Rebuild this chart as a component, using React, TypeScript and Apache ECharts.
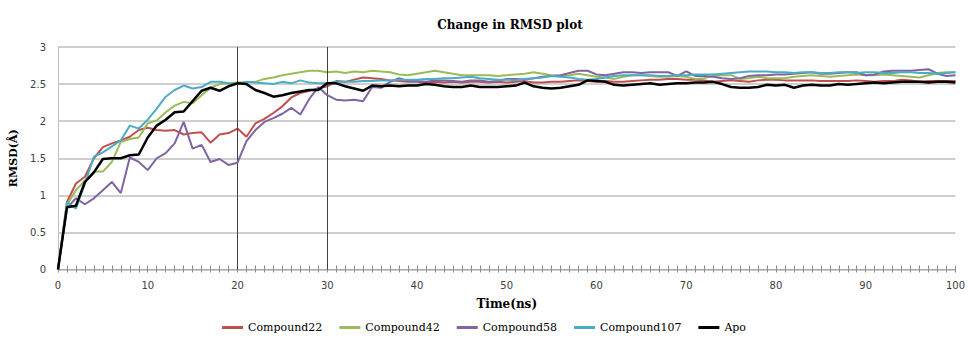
import React, { useEffect, useRef } from "react";
import * as echarts from "echarts";

const time: number[] = Array.from({ length: 101 }, (_, i) => i);

const compound22: number[] = [
  0, 0.91, 1.16, 1.25, 1.5, 1.65, 1.7, 1.74, 1.79, 1.88, 1.91, 1.88, 1.87, 1.88, 1.82, 1.84, 1.85,
  1.71, 1.82, 1.84, 1.9, 1.79, 1.97, 2.03, 2.11, 2.2, 2.32, 2.38, 2.41, 2.44, 2.47, 2.54,
  2.53, 2.56, 2.59, 2.58, 2.57, 2.55, 2.54, 2.53, 2.53, 2.52, 2.53, 2.52, 2.53, 2.52, 2.53,
  2.53, 2.52, 2.53, 2.52, 2.53, 2.54, 2.52, 2.52, 2.53, 2.53, 2.54, 2.55, 2.54, 2.53, 2.54, 2.53, 2.53, 2.54,
  2.55, 2.56, 2.56, 2.57, 2.57, 2.56, 2.56, 2.55, 2.53, 2.54, 2.55, 2.54, 2.53, 2.55, 2.56, 2.56, 2.55,
  2.55, 2.55, 2.55, 2.54, 2.54, 2.54, 2.54, 2.55, 2.54, 2.53, 2.54, 2.54, 2.56, 2.55, 2.53, 2.54, 2.54, 2.54, 2.54,
];

const compound42: number[] = [
  0, 0.87, 1.07, 1.2, 1.32, 1.32, 1.45, 1.72, 1.76, 1.78, 1.97, 2.01, 2.12, 2.21, 2.26, 2.24, 2.35,
  2.45, 2.5, 2.51, 2.52, 2.52, 2.53, 2.57, 2.59, 2.62, 2.64, 2.66, 2.68, 2.68, 2.66, 2.67,
  2.65, 2.67, 2.66, 2.68, 2.67, 2.66, 2.63, 2.62, 2.64, 2.66, 2.68, 2.66, 2.64, 2.62, 2.62,
  2.62, 2.62, 2.61, 2.62, 2.63, 2.64, 2.66, 2.64, 2.62, 2.61, 2.62, 2.64, 2.62, 2.6, 2.59, 2.57, 2.6, 2.62,
  2.62, 2.61, 2.6, 2.6, 2.61, 2.6, 2.57, 2.58, 2.61, 2.62, 2.62, 2.57, 2.58, 2.6, 2.58, 2.58, 2.58,
  2.6, 2.61, 2.62, 2.61, 2.6, 2.61, 2.62, 2.63, 2.62, 2.62, 2.63, 2.62, 2.61, 2.6, 2.59, 2.62, 2.65, 2.66, 2.66,
];

const compound58: number[] = [
  0, 0.83, 0.96, 0.88, 0.96, 1.07, 1.18, 1.03, 1.51, 1.45, 1.34, 1.5, 1.57, 1.7, 1.99, 1.63, 1.68,
  1.45, 1.49, 1.41, 1.44, 1.73, 1.88, 1.99, 2.04, 2.1, 2.18, 2.09, 2.3, 2.46, 2.35, 2.29,
  2.28, 2.29, 2.27, 2.46, 2.45, 2.53, 2.58, 2.54, 2.54, 2.53, 2.55, 2.55, 2.54, 2.53, 2.55,
  2.55, 2.53, 2.54, 2.57, 2.57, 2.56, 2.58, 2.6, 2.61, 2.62, 2.65, 2.68, 2.68, 2.63, 2.62, 2.64, 2.66, 2.66,
  2.65, 2.66, 2.66, 2.66, 2.61, 2.67, 2.61, 2.61, 2.6, 2.58, 2.57, 2.58, 2.61, 2.62, 2.62, 2.63, 2.63,
  2.64, 2.65, 2.66, 2.64, 2.64, 2.65, 2.66, 2.66, 2.62, 2.63, 2.67, 2.68, 2.68, 2.68, 2.69, 2.7, 2.64, 2.61, 2.62,
];

const compound107: number[] = [
  0, 0.91, 0.82, 1.16, 1.52, 1.58, 1.66, 1.74, 1.94, 1.9, 2.02, 2.17, 2.33, 2.42, 2.48, 2.44, 2.46,
  2.53, 2.53, 2.51, 2.5, 2.53, 2.52, 2.51, 2.5, 2.53, 2.51, 2.55, 2.52, 2.51, 2.51, 2.53,
  2.53, 2.53, 2.54, 2.54, 2.55, 2.55, 2.56, 2.56, 2.56, 2.57, 2.57, 2.58, 2.58, 2.59, 2.6,
  2.58, 2.57, 2.56, 2.56, 2.55, 2.57, 2.58, 2.59, 2.61, 2.6, 2.59, 2.57, 2.56, 2.57, 2.59, 2.61, 2.62, 2.62,
  2.62, 2.62, 2.61, 2.61, 2.62, 2.62, 2.63, 2.63, 2.63, 2.64, 2.65, 2.66, 2.67, 2.67, 2.67, 2.66, 2.66,
  2.65, 2.66, 2.66, 2.65, 2.65, 2.66, 2.66, 2.65, 2.66, 2.66, 2.65, 2.65, 2.66, 2.66, 2.65, 2.65, 2.64, 2.65, 2.66,
];

const apo: number[] = [
  0, 0.84, 0.86, 1.18, 1.31, 1.49, 1.5, 1.5, 1.54, 1.55, 1.78, 1.94, 2.02, 2.12, 2.13, 2.27, 2.41,
  2.45, 2.41, 2.47, 2.51, 2.5, 2.42, 2.38, 2.33, 2.35, 2.38, 2.4, 2.42, 2.42, 2.51, 2.51,
  2.47, 2.44, 2.41, 2.48, 2.47, 2.48, 2.47, 2.48, 2.48, 2.5, 2.49, 2.47, 2.46, 2.46, 2.48,
  2.46, 2.46, 2.46, 2.47, 2.48, 2.52, 2.47, 2.45, 2.44, 2.45, 2.47, 2.49, 2.55, 2.54, 2.53, 2.49, 2.48, 2.49,
  2.5, 2.51, 2.49, 2.5, 2.51, 2.51, 2.52, 2.52, 2.53, 2.5, 2.46, 2.45, 2.45, 2.46, 2.49, 2.48, 2.49,
  2.45, 2.48, 2.49, 2.48, 2.48, 2.5, 2.49, 2.5, 2.51, 2.52, 2.51, 2.52, 2.53, 2.53, 2.53, 2.52, 2.53, 2.53, 2.52,
];

const seriesNames: string[] = ["Compound22", "Compound42", "Compound58", "Compound107", "Apo"];
const seriesColors: string[] = ["#C0504D", "#9BBB59", "#8064A2", "#4BACC6", "#000000"];
const markerTimes: number[] = [20, 30];

export default function App() {
  const ref = useRef<HTMLDivElement>(null);
  useEffect(() => {
    if (!ref.current) return;
    const chart = echarts.init(ref.current, undefined, { renderer: "svg" });
    const allData = [compound22, compound42, compound58, compound107, apo];
    const series: any[] = allData.map((vals, i) => ({
      name: seriesNames[i],
      type: "line",
      xAxisIndex: 0,
      data: vals.map((v, j) => [time[j], v]),
      showSymbol: false,
      symbol: "none",
      lineStyle: { width: i === 4 ? 2.5 : 2, color: seriesColors[i] },
      itemStyle: { color: seriesColors[i] },
      z: 3 + i,
    }));
    series.push({
      name: "_markers",
      type: "line",
      xAxisIndex: 0,
      data: [],
      markLine: {
        silent: true,
        symbol: "none",
        label: { show: false },
        lineStyle: { color: "#404040", width: 1, type: "solid" },
        data: markerTimes.map((t) => ({ xAxis: t })),
      },
      z: 2,
    });
    series.push({ name: "_ticksA", type: "line", xAxisIndex: 1, data: [], silent: true });
    series.push({ name: "_ticksB", type: "line", xAxisIndex: 2, data: [], silent: true });
    const serif = "'DejaVu Serif', serif";
    const sans = "'DejaVu Sans', sans-serif";
    const tickColor = "#8C8C8C";
    const cats = time.map(String);
    chart.setOption({
      animation: false,
      backgroundColor: "#ffffff",
      title: {
        text: "Change in RMSD plot",
        left: 505,
        textAlign: "center",
        top: 14,
        textStyle: { fontFamily: serif, fontSize: 12, fontWeight: "bold", color: "#000" },
      },
      legend: {
        data: seriesNames,
        top: 317,
        left: "center",
        icon: "rect",
        itemWidth: 21,
        itemHeight: 3,
        itemGap: 17,
        textStyle: { fontFamily: serif, fontSize: 11, color: "#000" },
      },
      grid: { left: 58, right: 11, top: 47, bottom: 74.5 },
      xAxis: [
        {
          type: "value",
          min: 0,
          max: 100,
          interval: 10,
          name: "Time(ns)",
          nameLocation: "middle",
          nameGap: 28,
          nameTextStyle: { fontFamily: serif, fontSize: 12, fontWeight: "bold", color: "#000" },
          axisLine: { show: true, lineStyle: { color: "#A6A6A6", width: 1 } },
          axisTick: { show: false },
          axisLabel: { fontFamily: sans, fontSize: 10, color: "#404040", margin: 11 },
          splitLine: { show: false },
        },
        {
          type: "category",
          data: cats,
          boundaryGap: false,
          position: "bottom",
          axisLine: { show: false },
          axisTick: { show: true, interval: 0, inside: false, length: 3, lineStyle: { color: tickColor } },
          axisLabel: { show: false },
          splitLine: { show: false },
        },
        {
          type: "category",
          data: cats,
          boundaryGap: false,
          position: "bottom",
          axisLine: { show: false },
          axisTick: { show: true, interval: 0, inside: true, length: 4, lineStyle: { color: tickColor } },
          axisLabel: { show: false },
          splitLine: { show: false },
        },
      ],
      yAxis: {
        type: "value",
        min: 0,
        max: 3,
        interval: 0.5,
        name: "RMSD(Å)",
        nameLocation: "middle",
        nameGap: 32,
        nameTextStyle: { fontFamily: serif, fontSize: 11, fontWeight: "bold", color: "#000" },
        axisLine: { show: true, lineStyle: { color: "#BFBFBF", width: 1 } },
        axisTick: { show: false },
        axisLabel: { fontFamily: sans, fontSize: 10, color: "#404040", margin: 12 },
        splitLine: { show: true, lineStyle: { color: "#BFBFBF", width: 1.5 } },
      },
      series,
    });
    return () => chart.dispose();
  }, []);
  return (
    <div
      ref={ref}
      style={{ position: "fixed", left: 0, top: 0, width: 968, height: 344, background: "#fff" }}
    />
  );
}
